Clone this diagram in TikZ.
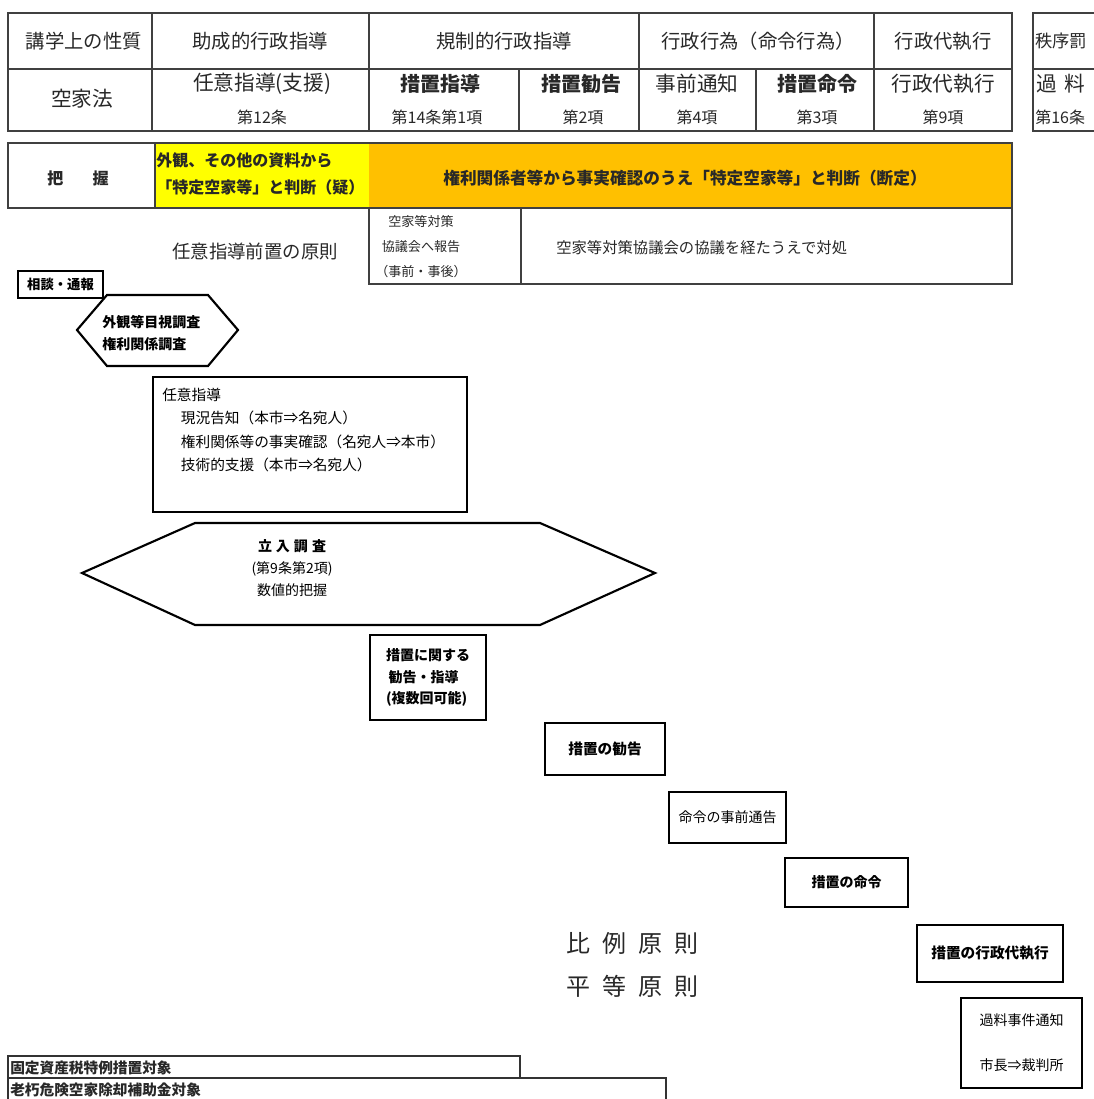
\documentclass[tikz,border=0pt]{standalone}
\usepackage{fontspec}
\setmainfont{Noto Sans CJK JP}
\definecolor{orng}{RGB}{255,192,0}
\definecolor{ylw}{RGB}{255,255,0}
\definecolor{ink}{RGB}{40,40,40}
\newcommand\fsz[2]{\fontsize{#1pt}{#2pt}\selectfont}
\tikzset{
  tline/.style={draw=black!75, line width=1.1pt},
  flowbox/.style={draw=black, line width=1.8pt, inner sep=0pt, font=\bfseries\fsz{10.5}{15}, align=center},
  wh/.style 2 args={minimum width={#1*0.75pt}, minimum height={#2*0.75pt}},
  thinbox/.style={draw=black!80, line width=0.9pt},
  hexa/.style={draw=black, line width=1.6pt},
  hdr/.style={font=\fsz{14.5}{17}, text=ink, inner sep=0pt},
  mainlbl/.style={font=\fsz{15.5}{18}, text=ink, inner sep=0pt},
  mainbold/.style={font=\bfseries\fsz{15}{18}, text=ink, inner sep=0pt},
  sublbl/.style={font=\fsz{12}{14}, text=ink, inner sep=0pt},
  smalltxt/.style={font=\fsz{10.5}{15}, text=black, inner sep=0pt},
}
\begin{document}
\begin{tikzpicture}[x=0.75pt,y=-0.75pt]
\clip (0,0) rectangle (1094,1099);
\fill[white] (0,0) rectangle (1094,1099);

% ---------- table 1 ----------
\draw[tline] (8,13) rectangle (1012,131);
\draw[tline] (8,69) -- (1012,69);
\draw[tline] (152,13) -- (152,131);
\draw[tline] (369,13) -- (369,131);
\draw[tline] (519,69) -- (519,131);
\draw[tline] (639,13) -- (639,131);
\draw[tline] (756,69) -- (756,131);
\draw[tline] (874,13) -- (874,131);
% third table (cut at right edge)
\draw[tline] (1033,13) rectangle (1120,131);
\draw[tline] (1033,69) -- (1120,69);

\node[hdr] (h1) at (84,41) {講学上の性質};
\node[hdr] (h2) at (260,41) {助成的行政指導};
\node[hdr] (h3) at (504,41) {規制的行政指導};
\node[hdr] (h4) at (758,41) {行政行為（命令行為）};
\node[hdr] (h5) at (943,41) {行政代執行};
\node[hdr, anchor=west, font=\fsz{13}{15}] (h6) at (1035,41) {秩序罰};

\node[mainlbl] (r0) at (82,99) {空家法};
\node[mainlbl] (r1) at (262,84) {任意指導(支援)};
\node[sublbl] (s1) at (262,117) {第12条};
\node[mainbold] (r2) at (440,84) {措置指導};
\node[sublbl] (s2) at (437,117) {第14条第1項};
\node[mainbold] (r3) at (581,84) {措置勧告};
\node[sublbl] (s3) at (583,117) {第2項};
\node[mainlbl] (r4) at (697,84) {事前通知};
\node[sublbl] (s4) at (697,117) {第4項};
\node[mainbold] (r5) at (817,84) {措置命令};
\node[sublbl] (s5) at (817,117) {第3項};
\node[mainbold, font=\fsz{15.5}{18}] (r6) at (943,84) {行政代執行};
\node[sublbl] (s6) at (943,117) {第9項};
\node[mainlbl, anchor=west] (r7) at (1036,84) {過\hspace{6pt}料};
\node[sublbl, anchor=west] (s7) at (1035,117) {第16条};

% ---------- table 2 ----------
\fill[ylw] (155,143) rectangle (369,208);
\fill[orng] (369,143) rectangle (1012,208);
\draw[tline] (8,143) rectangle (1012,208);
\draw[tline] (155,143) -- (155,208);
\node[font=\bfseries\fsz{12}{14}, text=ink] (haaku) at (78,178) {把\hspace{22pt}握};
\node[font=\bfseries\fsz{12}{20}, text=ink, anchor=west, align=left, inner sep=0pt] (gaikan) at (156,174) {外観、その他の資料から\\「特定空家等」と判断（疑）};
\node[font=\bfseries\fsz{12.5}{15}, text=ink] (kenri) at (685,178) {権利関係者等から事実確認のうえ「特定空家等」と判断（断定）};

% ---------- council box ----------
\draw[tline] (369,208) rectangle (1012,284);
\draw[tline] (521,208) -- (521,284);
\node[font=\fsz{9.8}{18.75}, text=ink, align=center, inner sep=0pt] (houkoku) at (421,247) {空家等対策\\協議会へ報告\\（事前・事後）};
\node[font=\fsz{11.5}{14}, text=ink, anchor=west, inner sep=0pt] (kyogi) at (556,248) {空家等対策協議会の協議を経たうえで対処};
\node[font=\fsz{13.8}{16}, text=ink] (zenchi) at (255,251) {任意指導前置の原則};

% ---------- flow ----------
\node[flowbox, wh={85}{27}, font=\bfseries\fsz{10}{12}] (soudan) at (60.5,284.5) {相談・通報};

\draw[hexa] (77,330) -- (107,295) -- (208,295) -- (238,330) -- (208,366) -- (107,366) -- cycle;
\node[smalltxt, font=\bfseries\fsz{10.5}{16.5}, anchor=west, align=left] (mokushi) at (102,333) {外観等目視調査\\権利関係調査};

\node[flowbox, wh={314}{135}, line width=1.5pt] (nini) at (310,444.5) {};
\node[font=\fsz{11}{17.5}, text=black, anchor=north west, align=left, inner sep=0pt] (ninitxt) at (162,388)
  {任意指導\\\hspace{14pt}現況告知（本市⇒名宛人）\\\hspace{14pt}権利関係等の事実確認（名宛人⇒本市）\\\hspace{14pt}技術的支援（本市⇒名宛人）};

\draw[hexa] (82,573) -- (195,523) -- (540,523) -- (655,573) -- (540,625) -- (195,625) -- cycle;
\node[font=\fsz{10.5}{16.5}, text=black, align=center, inner sep=0pt] (tachiiri) at (292,568)
  {{\bfseries 立\hspace{3pt}入\hspace{3pt}調\hspace{3pt}査}\\(第9条第2項)\\数値的把握};

\node[flowbox, wh={116}{85}, align=left, font=\bfseries\fsz{10.5}{16}] (jogen) at (428,677.5) {措置に関する\\\hspace{2pt}勧告・指導\\(複数回可能)};
\node[flowbox, wh={120}{52}, font=\bfseries\fsz{11}{13}] (kankoku) at (605,749) {措置の勧告};
\node[flowbox, wh={117}{51}, font=\fsz{10.5}{13}] (jizen) at (727.5,817.5) {命令の事前通告};
\node[flowbox, wh={123}{49}] (meirei) at (846.5,882.5) {措置の命令};
\node[flowbox, wh={146}{57}, font=\bfseries\fsz{11}{13}] (daishikko) at (990,953.5) {措置の行政代執行};
\node[flowbox, wh={121}{90}, font=\fsz{10.5}{33.75}, line width=1.6pt] (karyo) at (1021.5,1043) {過料事件通知\\市長⇒裁判所};

\node[font=\fsz{18}{32}, text=ink, align=left, anchor=west, inner sep=0pt] (gensoku) at (566,965)
  {比\hspace{9pt}例\hspace{9pt}原\hspace{9pt}則\\平\hspace{9pt}等\hspace{9pt}原\hspace{9pt}則};

% ---------- bottom ----------
\draw[thinbox] (8,1056) rectangle (520,1078);
\draw[thinbox] (8,1078) rectangle (666,1112);
\node[font=\bfseries\fsz{11}{13}, text=ink, anchor=west, inner sep=0pt] (kotei) at (10,1068) {固定資産税特例措置対象};
\node[font=\bfseries\fsz{11}{13}, text=ink, anchor=west, inner sep=0pt] (rouki) at (10,1090) {老朽危険空家除却補助金対象};
\end{tikzpicture}
\end{document}
